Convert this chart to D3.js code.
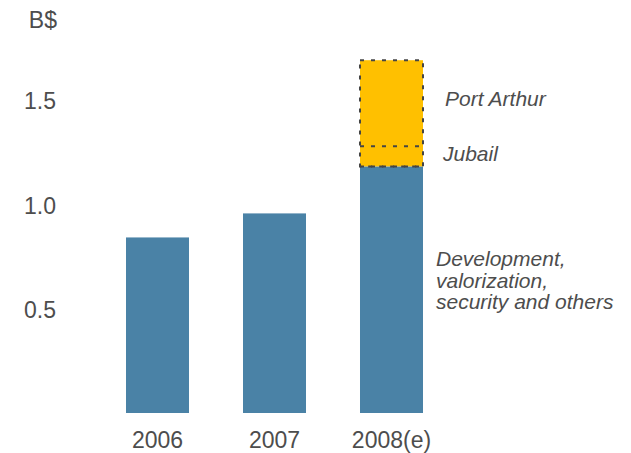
<!DOCTYPE html>
<html>
<head>
<meta charset="utf-8">
<script src="https://cdn.jsdelivr.net/npm/d3@7"></script>
<style>
  body { margin: 0; background: #fff; }
  text { font-family: "Liberation Sans", Arial, sans-serif; }
</style>
</head>
<body>
<div id="chart"></div>
<script>
// Capex in B$, 2006-2008(e)
const years = ["2006", "2007", "2008(e)"];
const baseValues = [0.84, 0.955, 1.18];          // Development, valorization, security and others
const jubail = [0, 0, 0.096];
const portArthur = [0, 0, 0.412];
const yTicks = [0.5, 1.0, 1.5];
const segLabels = ["Development,", "valorization,", "security and others"];

const width = 631, height = 453;
const blue = "#4a82a6", gold = "#ffc000", textCol = "#4d4d4d";

const svg = d3.select("#chart").append("svg")
  .attr("width", width).attr("height", height);

const x = d3.scaleBand().domain(years).range([99, 450]).paddingInner(0.4615).paddingOuter(0.2308);
const y = d3.scaleLinear().domain([0, 1.5]).range([413, 99.5]);

// y tick labels (no axis line)
svg.append("g").selectAll("text").data(yTicks).join("text")
  .attr("x", 56).attr("y", d => y(d)).attr("dy", "0.42em")
  .attr("text-anchor", "end").attr("font-size", 23).attr("fill", textCol)
  .text(d => d.toFixed(1));

svg.append("text").attr("x", 57).attr("y", 28).attr("text-anchor", "end")
  .attr("font-size", 23).attr("fill", textCol).text("B$");

// base bars
svg.append("g").selectAll("rect").data(years).join("rect")
  .attr("x", d => x(d)).attr("width", x.bandwidth())
  .attr("y", (d, i) => y(baseValues[i]))
  .attr("height", (d, i) => y(0) - y(baseValues[i]))
  .attr("fill", blue);

// stacked dashed segments for 2008
const dashed = svg.append("g");
years.forEach((yr, i) => {
  if (!jubail[i]) return;
  const b = baseValues[i], j = b + jubail[i], p = j + portArthur[i];
  dashed.append("rect").attr("class", "fill").attr("x", x(yr)).attr("width", x.bandwidth())
    .attr("y", y(p)).attr("height", y(b) - y(p)).attr("fill", gold);
  dashed.append("line").attr("x1", x(yr)).attr("x2", x(yr) + x.bandwidth())
    .attr("y1", y(j)).attr("y2", y(j));
  dashed.append("line").attr("x1", x(yr)).attr("x2", x(yr) + x.bandwidth())
    .attr("y1", y(b)).attr("y2", y(b));
  dashed.append("rect").attr("class", "outline").attr("x", x(yr)).attr("width", x.bandwidth())
    .attr("y", y(p)).attr("height", y(b) - y(p)).attr("fill", "none");
});
dashed.selectAll("line, rect.outline")
  .attr("stroke", "#454545").attr("stroke-width", 2).attr("stroke-dasharray", "4,7");

// x labels
svg.append("g").selectAll("text").data(years).join("text")
  .attr("x", d => x(d) + x.bandwidth() / 2).attr("y", 448)
  .attr("text-anchor", "middle").attr("font-size", 23).attr("fill", textCol)
  .text(d => d);

// segment labels on the right
const lab = svg.append("g").attr("font-style", "italic").attr("font-size", 21).attr("fill", textCol);
lab.append("text").attr("x", 445).attr("y", 106).text("Port Arthur");
lab.append("text").attr("x", 443).attr("y", 161).text("Jubail");
segLabels.forEach((t, i) => {
  lab.append("text").attr("x", 436).attr("y", 266 + i * 21.5).text(t);
});
</script>
</body>
</html>
